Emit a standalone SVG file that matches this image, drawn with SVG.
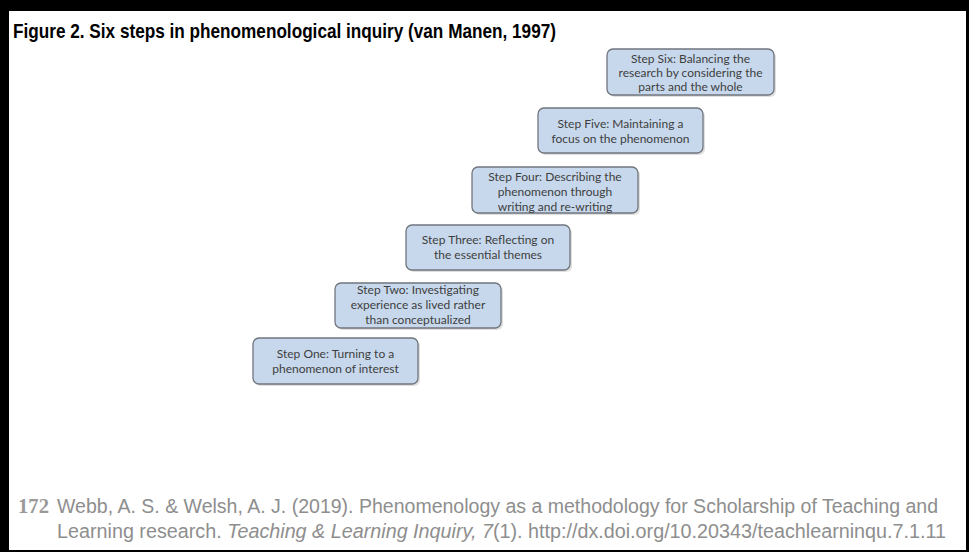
<svg xmlns="http://www.w3.org/2000/svg" width="969" height="552" viewBox="0 0 969 552">
<style>
.box{fill:#c7d8ec;stroke:#70757d;stroke-width:1.3}
.shadow{fill:#c9c9c9;opacity:0.6}
.lbl{font-family:Lato,"Open Sans","Liberation Sans",sans-serif;font-size:12px;fill:#3e3e3e;text-anchor:middle}
.title{font-family:"Liberation Sans",Arial,sans-serif;font-weight:bold;font-size:20.5px;fill:#000}
.foot{font-family:"Liberation Sans",Arial,sans-serif;font-size:19.5px;fill:#8e8e8e}
.pg{font-family:"Liberation Serif","Times New Roman",serif;font-size:21px;fill:#9a9a9a;font-weight:bold}
</style>
<rect x="0" y="0" width="969" height="552" fill="#000"/>
<rect x="9" y="11" width="957" height="539" fill="#fff"/>
<text class="title" x="13" y="38" textLength="543" lengthAdjust="spacingAndGlyphs">Figure 2. Six steps in phenomenological inquiry (van Manen, 1997)</text>
<g id="connectors"></g>
<g id="step1">
<rect class="shadow" x="255" y="340" width="165" height="46" rx="6"/>
<rect class="box" x="253" y="338" width="165" height="46" rx="6"/>
<text class="lbl" x="335.5" y="358">Step One: Turning to a</text>
<text class="lbl" x="335.5" y="373">phenomenon of interest</text>
</g>
<g id="step2">
<rect class="shadow" x="337" y="285" width="166" height="45" rx="6"/>
<rect class="box" x="335" y="283" width="166" height="45" rx="6"/>
<text class="lbl" x="418" y="294">Step Two: Investigating</text>
<text class="lbl" x="418" y="309">experience as lived rather</text>
<text class="lbl" x="418" y="324">than conceptualized</text>
</g>
<g id="step3">
<rect class="shadow" x="408" y="227" width="164" height="45" rx="6"/>
<rect class="box" x="406" y="225" width="164" height="45" rx="6"/>
<text class="lbl" x="488" y="244">Step Three: Reflecting on</text>
<text class="lbl" x="488" y="259">the essential themes</text>
</g>
<g id="step4">
<rect class="shadow" x="474" y="169" width="166" height="46" rx="6"/>
<rect class="box" x="472" y="167" width="166" height="46" rx="6"/>
<text class="lbl" x="555" y="181">Step Four: Describing the</text>
<text class="lbl" x="555" y="196">phenomenon through</text>
<text class="lbl" x="555" y="211">writing and re-writing</text>
</g>
<g id="step5">
<rect class="shadow" x="540" y="110" width="165" height="45" rx="6"/>
<rect class="box" x="538" y="108" width="165" height="45" rx="6"/>
<text class="lbl" x="620.5" y="128">Step Five: Maintaining a</text>
<text class="lbl" x="620.5" y="143">focus on the phenomenon</text>
</g>
<g id="step6">
<rect class="shadow" x="609" y="51" width="167" height="46" rx="6"/>
<rect class="box" x="607" y="49" width="167" height="46" rx="6"/>
<text class="lbl" x="690.5" y="63">Step Six: Balancing the</text>
<text class="lbl" x="690.5" y="77">research by considering the</text>
<text class="lbl" x="690.5" y="91">parts and the whole</text>
</g>
<text class="pg" x="18" y="513" textLength="31" lengthAdjust="spacingAndGlyphs">172</text>
<text class="foot" x="57" y="513" textLength="881" lengthAdjust="spacingAndGlyphs">Webb, A. S. &amp; Welsh, A. J. (2019). Phenomenology as a methodology for Scholarship of Teaching and</text>
<text class="foot" x="57" y="538" textLength="889" lengthAdjust="spacingAndGlyphs">Learning research. <tspan font-style="italic">Teaching &amp; Learning Inquiry, 7</tspan>(1). http://dx.doi.org/10.20343/teachlearninqu.7.1.11</text>
</svg>
